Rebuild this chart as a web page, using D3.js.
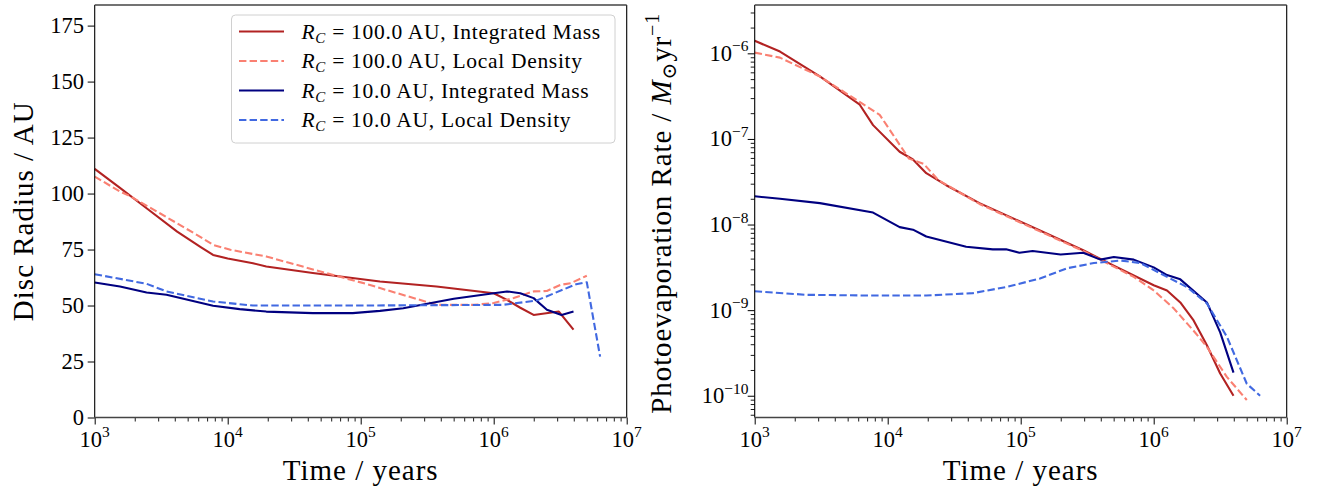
<!DOCTYPE html>
<html>
<head>
<meta charset="utf-8">
<script src="https://cdn.jsdelivr.net/npm/d3@7"></script>
<style>
  html, body { margin: 0; padding: 0; background: #fff; }
  svg { display: block; font-family: "Liberation Serif", "DejaVu Serif", serif; }
</style>
</head>
<body>
<svg id="chart" width="1323" height="496"></svg>
<script>
// ---- data ----
// left panel: disc radius (AU) vs time (years)
var radiusIM100T = [1000, 1549, 2512, 4169, 6310, 7762, 10000, 15490, 19500, 43650, 139600, 371500, 1.0e6, 1.259e6, 1.585e6, 1.995e6, 3.09e6, 3.981e6];
var radiusIM100  = [111, 102.5, 93, 83, 76, 72.6, 71, 68.9, 67.4, 64.5, 60.7, 58.5, 55.5, 52.5, 49, 45.8, 47.3, 39.2];

var radiusLD100T = [1000, 1549, 1862, 3090, 6166, 7762, 10470, 19500, 54950, 117500, 139600, 371500, 707900, 1.0e6, 1.413e6, 1.995e6, 2.512e6, 3.162e6, 3.8e6, 5.012e6];
var radiusLD100  = [107.6, 100.9, 98.7, 91.2, 80.8, 77.1, 74.9, 71.9, 64.5, 59.2, 57.8, 50.3, 50.3, 51.1, 53.4, 56.3, 56.5, 59.2, 60, 63.3];

var radiusIM10T = [1000, 1549, 2455, 3467, 7762, 12300, 19500, 43650, 87100, 139600, 208900, 501200, 1.0e6, 1.259e6, 1.585e6, 1.995e6, 2.512e6, 3.236e6, 3.981e6];
var radiusIM10  = [60.3, 58.5, 55.8, 54.8, 49.9, 48.4, 47.3, 46.6, 46.6, 47.6, 48.8, 53, 55.5, 56.3, 55.5, 53.3, 48.1, 45.8, 47.3];

var radiusLD10T = [1000, 2455, 3467, 7762, 15490, 100000, 1.175e6, 2.089e6, 4.169e6, 5.012e6, 6.31e6];
var radiusLD10  = [64, 59.7, 56.3, 51.8, 50, 50, 50.3, 52.2, 59.5, 60.4, 27.2];

// right panel: photoevaporation rate (Msun/yr) vs time (years)
var rateIM100T = [1000, 1549, 3090, 6166, 7762, 12300, 15490, 19500, 27540, 48980, 139600, 295100, 501200, 1.0e6, 1.259e6, 1.585e6, 1.995e6, 2.512e6, 3.162e6, 3.981e6];
var rateIM100  = [1.40e-6, 1.05e-6, 5.37e-7, 2.51e-7, 1.45e-7, 7.08e-8, 5.75e-8, 3.98e-8, 2.88e-8, 1.78e-8, 8.51e-9, 5.01e-9, 3.31e-9, 1.95e-9, 1.70e-9, 1.23e-9, 7.59e-10, 3.89e-10, 1.82e-10, 1.0e-10];

var rateLD100T = [1000, 1549, 3090, 6918, 8710, 14450, 18620, 23990, 48980, 139600, 295100, 707900, 1.0e6, 1.413e6, 1.995e6, 2.512e6, 3.548e6, 5.012e6];
var rateLD100  = [1.02e-6, 8.91e-7, 5.37e-7, 2.40e-7, 1.91e-7, 5.89e-8, 5.13e-8, 3.31e-8, 1.74e-8, 8.32e-9, 4.90e-9, 2.45e-9, 1.70e-9, 1.05e-9, 5.75e-10, 3.72e-10, 1.66e-10, 8.91e-11];

var rateIM10T = [1000, 1549, 3090, 7762, 12300, 15490, 19500, 38900, 61660, 77620, 97720, 123000, 199500, 295100, 398100, 501200, 707900, 1.0e6, 1.259e6, 1.585e6, 2.512e6, 3.162e6, 3.981e6];
var rateIM10  = [2.14e-8, 2.00e-8, 1.78e-8, 1.38e-8, 9.33e-9, 8.71e-9, 7.24e-9, 5.50e-9, 5.13e-9, 5.13e-9, 4.68e-9, 4.90e-9, 4.47e-9, 4.68e-9, 3.89e-9, 4.17e-9, 3.89e-9, 3.16e-9, 2.57e-9, 2.29e-9, 1.23e-9, 5.50e-10, 1.86e-10];

var rateLD10T = [1000, 2455, 7762, 19500, 43650, 77620, 139600, 223900, 354800, 562300, 794300, 1.122e6, 1.778e6, 2.512e6, 3.548e6, 5.012e6, 6.31e6];
var rateLD10  = [1.66e-9, 1.51e-9, 1.48e-9, 1.48e-9, 1.58e-9, 1.86e-9, 2.34e-9, 3.09e-9, 3.55e-9, 3.80e-9, 3.55e-9, 2.69e-9, 1.86e-9, 1.20e-9, 4.90e-10, 1.38e-10, 1.0e-10];

var timeTicks = [1e3, 1e4, 1e5, 1e6, 1e7];
var radiusTicks = [0, 25, 50, 75, 100, 125, 150, 175];
var rateTicks = [1e-10, 1e-9, 1e-8, 1e-7, 1e-6];

var seriesNames = [
  { rc: '100.0', kind: 'Integrated Mass', color: '#b22222', dash: null },
  { rc: '100.0', kind: 'Local Density',   color: '#fa8072', dash: '7.4,3.2' },
  { rc: '10.0',  kind: 'Integrated Mass', color: '#000080', dash: null },
  { rc: '10.0',  kind: 'Local Density',   color: '#4169e1', dash: '7.4,3.2' }
];

(function () {
  'use strict';

  var svg = d3.select('#chart');
  svg.append('rect').attr('width', 1323).attr('height', 496).attr('fill', '#fff');

  var top = 5, bottom = 417.5;
  var leftPanel = { x0: 94.7, x1: 626.7 };
  var rightPanel = { x0: 754.7, x1: 1286.7 };

  function minorLogTicks(lo, hi) {
    var out = [];
    for (var e = Math.floor(Math.log10(lo)); e <= Math.ceil(Math.log10(hi)); e++) {
      for (var k = 2; k <= 9; k++) {
        var v = k * Math.pow(10, e);
        if (v >= lo && v <= hi) out.push(v);
      }
    }
    return out;
  }

  // superscript tick label: 10^n
  function powLabel(sel, exp) {
    sel.append('tspan').text('10');
    sel.append('tspan').attr('font-size', 15.5).attr('dy', -9.5).text(exp < 0 ? '\u2212' + (-exp) : exp);
  }

  function drawXAxis(g, x) {
    g.append('g')
      .attr('transform', 'translate(0,' + bottom + ')')
      .call(d3.axisBottom(x).tickValues(minorLogTicks(1e3, 1e7)).tickSize(4).tickFormat(function () { return ''; }))
      .call(function (a) { a.select('.domain').remove(); a.selectAll('line').attr('stroke', '#000').attr('stroke-width', 0.9); });
    g.append('g')
      .attr('transform', 'translate(0,' + bottom + ')')
      .call(d3.axisBottom(x).tickValues(timeTicks).tickSize(7).tickFormat(function () { return ''; }))
      .call(function (a) { a.select('.domain').remove(); a.selectAll('line').attr('stroke', '#000').attr('stroke-width', 1); });

    timeTicks.forEach(function (t) {
      var txt = g.append('text')
        .attr('x', x(t)).attr('y', 446.5)
        .attr('text-anchor', 'middle')
        .attr('font-size', 22.5);
      powLabel(txt, Math.round(Math.log10(t)));
    });

    g.append('text')
      .attr('x', (x.range()[0] + x.range()[1]) / 2).attr('y', 480)
      .attr('text-anchor', 'middle')
      .attr('font-size', 29)
      .style('letter-spacing', '1px')
      .text('Time / years');
  }

  function drawFrame(g, p) {
    g.append('line').attr('x1', p.x0).attr('x2', p.x0).attr('y1', top).attr('y2', bottom).attr('stroke', '#000').attr('stroke-width', 1.1);
    g.append('line').attr('x1', p.x1).attr('x2', p.x1).attr('y1', top).attr('y2', bottom).attr('stroke', '#000').attr('stroke-width', 1.1);
    g.append('line').attr('x1', p.x0).attr('x2', p.x1).attr('y1', top).attr('y2', top).attr('stroke', '#444').attr('stroke-width', 1.6);
    g.append('line').attr('x1', p.x0).attr('x2', p.x1).attr('y1', bottom).attr('y2', bottom).attr('stroke', '#444').attr('stroke-width', 1.6);
  }

  function drawSeries(g, x, y, ts, vs, s) {
    var line = d3.line()
      .x(function (d) { return x(d[0]); })
      .y(function (d) { return y(d[1]); });
    g.append('path')
      .datum(d3.zip(ts, vs))
      .attr('d', line)
      .attr('fill', 'none')
      .attr('stroke', s.color)
      .attr('stroke-width', 2.1)
      .attr('stroke-linejoin', 'round')
      .attr('stroke-dasharray', s.dash);
  }

  // ---------- left panel ----------
  var gl = svg.append('g');
  var xL = d3.scaleLog().domain([1e3, 1e7]).range([leftPanel.x0, leftPanel.x1]);
  var yL = d3.scaleLinear().domain([0, 184.2]).range([bottom, top]);

  gl.append('g')
    .attr('transform', 'translate(' + leftPanel.x0 + ',0)')
    .call(d3.axisLeft(yL).tickValues(radiusTicks).tickSize(7).tickFormat(function () { return ''; }))
    .call(function (a) { a.select('.domain').remove(); a.selectAll('line').attr('stroke', '#000'); });
  radiusTicks.forEach(function (v) {
    gl.append('text')
      .attr('x', 84).attr('y', yL(v) + 7.5)
      .attr('text-anchor', 'end')
      .attr('font-size', 22.5)
      .text(v);
  });
  gl.append('text')
    .attr('transform', 'translate(33,' + (top + bottom) / 2 + ') rotate(-90)')
    .attr('text-anchor', 'middle')
    .attr('font-size', 29)
    .style('letter-spacing', '1px')
    .text('Disc Radius / AU');

  drawXAxis(gl, xL);

  drawSeries(gl, xL, yL, radiusIM100T, radiusIM100, seriesNames[0]);
  drawSeries(gl, xL, yL, radiusLD100T, radiusLD100, seriesNames[1]);
  drawSeries(gl, xL, yL, radiusIM10T, radiusIM10, seriesNames[2]);
  drawSeries(gl, xL, yL, radiusLD10T, radiusLD10, seriesNames[3]);

  drawFrame(gl, leftPanel);

  // legend
  var lg = gl.append('g');
  lg.append('rect')
    .attr('x', 231.5).attr('y', 15).attr('width', 383.5).attr('height', 128)
    .attr('rx', 4)
    .attr('fill', 'rgba(255,255,255,0.8)')
    .attr('stroke', '#d0d0d0').attr('stroke-width', 1);
  seriesNames.forEach(function (s, i) {
    var ry = 31.5 + i * 29.5;
    lg.append('line')
      .attr('x1', 239).attr('x2', 284).attr('y1', ry).attr('y2', ry)
      .attr('stroke', s.color).attr('stroke-width', 2.1)
      .attr('stroke-dasharray', s.dash);
    var t = lg.append('text').attr('x', 301.5).attr('y', ry + 7).attr('font-size', 21.5)
      .style('letter-spacing', '0.7px');
    t.append('tspan').attr('font-style', 'italic').text('R');
    t.append('tspan').attr('font-style', 'italic').attr('font-size', 15).attr('dy', 4).text('C');
    t.append('tspan').attr('dy', -4).text(' = ' + s.rc + ' AU, ' + s.kind);
  });

  // ---------- right panel ----------
  var gr = svg.append('g');
  var xR = d3.scaleLog().domain([1e3, 1e7]).range([rightPanel.x0, rightPanel.x1]);
  var yR = d3.scaleLog().domain([5.57e-11, 3.67e-6]).range([bottom, top]);

  gr.append('g')
    .attr('transform', 'translate(' + rightPanel.x0 + ',0)')
    .call(d3.axisLeft(yR).tickValues(minorLogTicks(5.57e-11, 3.67e-6)).tickSize(4).tickFormat(function () { return ''; }))
    .call(function (a) { a.select('.domain').remove(); a.selectAll('line').attr('stroke', '#000').attr('stroke-width', 0.9); });
  gr.append('g')
    .attr('transform', 'translate(' + rightPanel.x0 + ',0)')
    .call(d3.axisLeft(yR).tickValues(rateTicks).tickSize(7).tickFormat(function () { return ''; }))
    .call(function (a) { a.select('.domain').remove(); a.selectAll('line').attr('stroke', '#000'); });
  rateTicks.forEach(function (v) {
    var txt = gr.append('text')
      .attr('x', 748.5).attr('y', yR(v) + 7.5)
      .attr('text-anchor', 'end')
      .attr('font-size', 22.5);
    powLabel(txt, Math.round(Math.log10(v)));
  });
  var ylab = gr.append('text')
    .attr('transform', 'translate(671,' + ((top + bottom) / 2 + 2) + ') rotate(-90)')
    .attr('text-anchor', 'middle')
    .attr('font-size', 29)
    .style('letter-spacing', '0.9px');
  ylab.append('tspan').text('Photoevaporation Rate / ');
  ylab.append('tspan').attr('font-style', 'italic').text('M');
  ylab.append('tspan').attr('font-size', 20).attr('dy', 5).text('\u2299');
  ylab.append('tspan').attr('dy', -5).text('yr');
  ylab.append('tspan').attr('font-size', 20).attr('dy', -12).text('\u22121');

  drawXAxis(gr, xR);

  drawSeries(gr, xR, yR, rateIM100T, rateIM100, seriesNames[0]);
  drawSeries(gr, xR, yR, rateLD100T, rateLD100, seriesNames[1]);
  drawSeries(gr, xR, yR, rateIM10T, rateIM10, seriesNames[2]);
  drawSeries(gr, xR, yR, rateLD10T, rateLD10, seriesNames[3]);

  drawFrame(gr, rightPanel);
})();
</script>
</body>
</html>
